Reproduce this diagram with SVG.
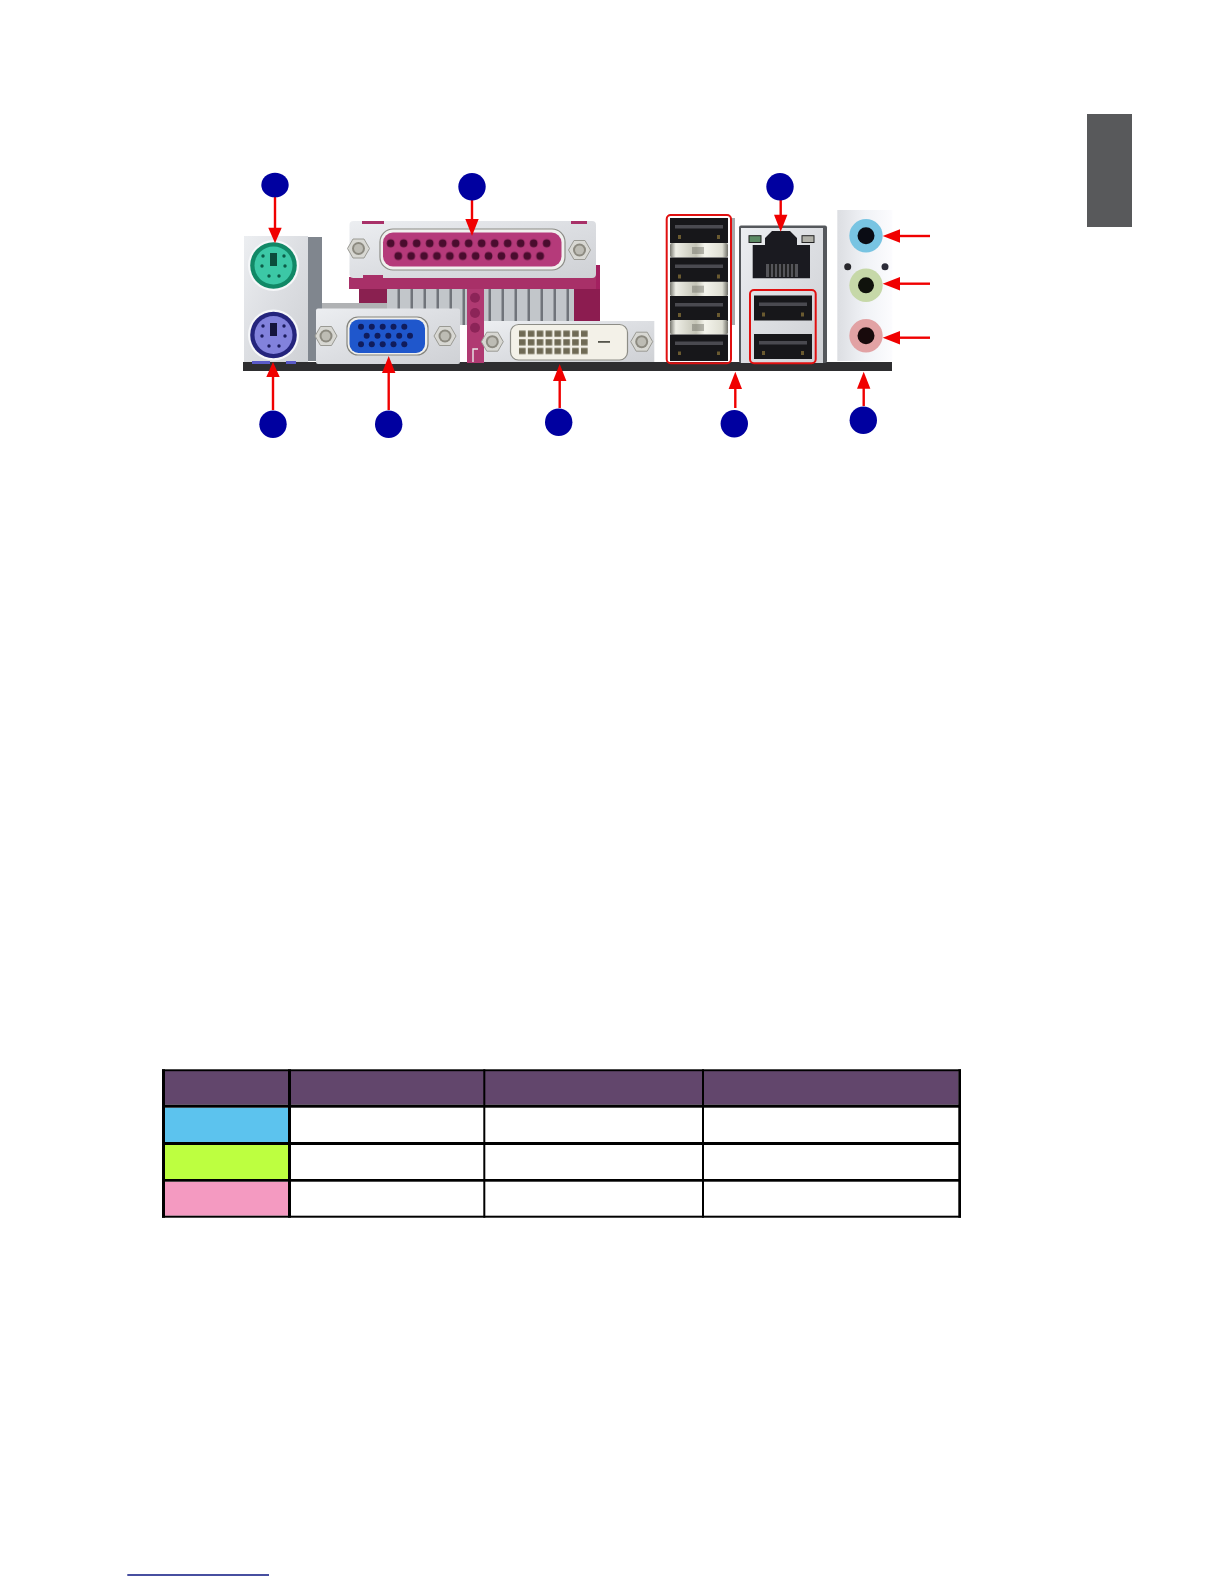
<svg xmlns="http://www.w3.org/2000/svg" width="1224" height="1584" viewBox="0 0 1224 1584">
<style>
.badge{fill:#0000a0}
.conn line{stroke:#f00000;stroke-width:2.400;fill:none}
.conn polygon{fill:#f00000}
.rbox{fill:none;stroke:#e01010;stroke-width:2}
.grid{fill:#000}
.slot{fill:#17171a}
.tongue{fill:#4a4a50}
.silver{fill:url(#silver)}
.plate{fill:url(#plate)}
</style>
<defs>
<linearGradient id="plate" x1="0" y1="0" x2="1" y2="1"><stop offset="0" stop-color="#eceef1"/><stop offset=".5" stop-color="#dcdee2"/><stop offset="1" stop-color="#cfd1d5"/></linearGradient>
<linearGradient id="silver" x1="0" y1="0" x2="1" y2="0"><stop offset="0" stop-color="#77776f"/><stop offset=".1" stop-color="#eeeee6"/><stop offset=".45" stop-color="#c4c4b6"/><stop offset=".6" stop-color="#f4f4ec"/><stop offset=".9" stop-color="#deded2"/><stop offset="1" stop-color="#707068"/></linearGradient>
<linearGradient id="audio" x1="0" y1="0" x2="1" y2="0"><stop offset="0" stop-color="#dcdee2"/><stop offset=".5" stop-color="#f0f2f6"/><stop offset="1" stop-color="#fcfcfe"/></linearGradient>
<g id="screw"><polygon points="-11,0 -5.500,-9.500 5.500,-9.500 11,0 5.500,9.500 -5.500,9.500" fill="#d8d8d3" stroke="#9a9a94"/><circle r="6.500" fill="#8c8a80"/><circle r="4.500" fill="#bdbcb4"/></g>
<g id="usbport"><rect class="slot" x="0" y="0" width="58" height="25"/><rect class="tongue" x="5" y="7" width="48" height="3.500"/><rect x="8" y="17" width="3" height="4" fill="#6a5a30"/><rect x="47" y="17" width="3" height="4" fill="#6a5a30"/></g>
<g id="silverband"><rect class="silver" x="0" y="0" width="58" height="14.500" rx="2"/><rect x="22" y="4" width="12" height="7" fill="#6c6c64" opacity=".45"/></g>
<pattern id="finp" x="387" y="289" width="13" height="40" patternUnits="userSpaceOnUse"><rect width="13" height="40" fill="#c2c6ca"/><rect x="10.500" width="2.500" height="40" fill="#70747a"/></pattern>
<pattern id="parTop" x="384.200" y="236.800" width="13" height="13" patternUnits="userSpaceOnUse"><circle cx="6.500" cy="6.500" r="3.900" fill="#4a0c2e"/></pattern>
<pattern id="parBot" x="391.800" y="249.500" width="12.900" height="13" patternUnits="userSpaceOnUse"><circle cx="6.450" cy="6.500" r="3.900" fill="#4a0c2e"/></pattern>
<pattern id="dviP" x="518" y="329.400" width="8.860" height="8.650" patternUnits="userSpaceOnUse"><rect x="1" y="1.200" width="6.600" height="6.200" fill="#6f6a55"/></pattern>
<circle id="vp" r="3" fill="#101c5c"/>
</defs>

<rect width="1224" height="1584" fill="#fff"/>

<rect id="side-tab" x="1087" y="114" width="45" height="113" fill="#58595b"/>

<g id="io-panel">
<rect id="board-strip" x="243" y="362" width="649" height="9" fill="#2e2e30"/>

<g id="heatsink">
<rect x="359" y="285" width="215" height="40" fill="url(#finp)"/>
<rect x="359" y="289" width="28" height="19" fill="#8a2050"/>
<rect x="594" y="265" width="6" height="57" fill="#a32060"/>
<rect x="574" y="289" width="26" height="33" fill="#8c1c50"/>
<rect x="349" y="277" width="247" height="12" fill="#a83068"/>
</g>

<g id="pink-post">
<rect x="467" y="289" width="17" height="74" fill="#b03a72"/>
<circle cx="475" cy="297.700" r="5" fill="#8c2458"/>
<circle cx="475" cy="313" r="5" fill="#8c2458"/>
<circle cx="475" cy="327.700" r="5" fill="#8c2458"/>
<path d="M473 362V349H478" fill="none" stroke="#e8e8e8" stroke-width="1.400"/>
</g>

<g id="ps2">
<rect x="305" y="237" width="17" height="124" fill="#80868e"/>
<rect x="244" y="236" width="64" height="126" class="plate"/>
<circle cx="273.500" cy="265.500" r="25.500" fill="#f6f7f9"/>
<circle cx="273.500" cy="265.500" r="23.300" fill="#118866"/>
<circle cx="273.500" cy="265.500" r="19" fill="#3cc8a6"/>
<rect x="270" y="253" width="7" height="13" fill="#0c4c3c"/>
<circle cx="262" cy="266" r="1.700" fill="#0c5c48"/><circle cx="285" cy="266" r="1.700" fill="#0c5c48"/>
<circle cx="269" cy="276" r="1.700" fill="#0c5c48"/><circle cx="279" cy="276" r="1.700" fill="#0c5c48"/>
<circle cx="263" cy="256" r="1.700" fill="#0c5c48"/><circle cx="284" cy="256" r="1.700" fill="#0c5c48"/>
<circle cx="273.500" cy="335" r="25.500" fill="#f6f7f9"/>
<circle cx="273.500" cy="335" r="23.300" fill="#24247c"/>
<circle cx="273.500" cy="335" r="19" fill="#8282dc"/>
<rect x="270" y="323" width="7" height="13" fill="#14143c"/>
<circle cx="262" cy="336" r="1.700" fill="#1c1c5c"/><circle cx="285" cy="336" r="1.700" fill="#1c1c5c"/>
<circle cx="269" cy="346" r="1.700" fill="#1c1c5c"/><circle cx="279" cy="346" r="1.700" fill="#1c1c5c"/>
<circle cx="263" cy="326" r="1.700" fill="#1c1c5c"/><circle cx="284" cy="326" r="1.700" fill="#1c1c5c"/>
<rect x="252" y="361" width="18" height="3" fill="#5a5ac8"/><rect x="286" y="361" width="10" height="3" fill="#5a5ac8"/>
</g>

<g id="parallel-port">
<rect x="349.500" y="221" width="246.500" height="57" rx="4" class="plate"/>
<rect x="362" y="221" width="22" height="3" fill="#a83068"/>
<rect x="571" y="221" width="16" height="3" fill="#a83068"/>
<rect x="363" y="275" width="20" height="3" fill="#a83068"/>
<use href="#screw" x="358.500" y="248.500"/>
<use href="#screw" x="579.500" y="250"/>
<rect x="380" y="229" width="185" height="41" rx="13" fill="#f0f0ee" stroke="#8c8c86" stroke-width="1.200"/>
<rect x="383" y="232.500" width="178.500" height="34" rx="10" fill="#b53a7a"/>
<rect x="384.200" y="236.800" width="169" height="13" fill="url(#parTop)"/>
<rect x="391.800" y="249.500" width="154.800" height="13" fill="url(#parBot)"/>
</g>

<g id="vga-port">
<rect x="322" y="303" width="65" height="6" fill="#b0b2b4"/>
<rect x="316" y="308.500" width="144" height="55.500" rx="2" class="plate"/>
<use href="#screw" x="326" y="336"/>
<use href="#screw" x="445" y="336"/>
<rect x="347" y="317" width="81" height="38" rx="11" fill="#efefec" stroke="#85857f" stroke-width="1.200"/>
<rect x="349.500" y="319.500" width="75.500" height="33.500" rx="9" fill="#1f57cc"/>
<use href="#vp" x="361" y="326.700"/><use href="#vp" x="371.800" y="326.700"/><use href="#vp" x="382.700" y="326.700"/><use href="#vp" x="393.500" y="326.700"/><use href="#vp" x="404.300" y="326.700"/>
<use href="#vp" x="366.700" y="335.700"/><use href="#vp" x="377.500" y="335.700"/><use href="#vp" x="388.300" y="335.700"/><use href="#vp" x="399.200" y="335.700"/><use href="#vp" x="410" y="335.700"/>
<use href="#vp" x="361" y="344.300"/><use href="#vp" x="371.800" y="344.300"/><use href="#vp" x="382.700" y="344.300"/><use href="#vp" x="393.500" y="344.300"/><use href="#vp" x="404.300" y="344.300"/>
</g>

<g id="dvi-port">
<rect x="484" y="321" width="170.300" height="41" class="plate"/>
<use href="#screw" x="492.300" y="341.700"/>
<use href="#screw" x="641.700" y="341.700"/>
<rect x="510.500" y="324.500" width="117" height="35.500" rx="8" fill="#f3f1e8" stroke="#8d8d86" stroke-width="1.200"/>
<rect x="518" y="329.400" width="70.900" height="26" fill="url(#dviP)"/>
<rect x="598" y="341" width="12" height="1.800" fill="#55554c"/>
</g>

<g id="usb-stack">
<rect x="730" y="218" width="5" height="107" fill="#a8aaac"/>
<use href="#usbport" x="670" y="218"/>
<use href="#silverband" x="670" y="243"/>
<use href="#usbport" x="670" y="257.500"/>
<use href="#silverband" x="670" y="281.700"/>
<use href="#usbport" x="670" y="296"/>
<use href="#silverband" x="670" y="320"/>
<use href="#usbport" x="670" y="334.500"/>
<rect class="slot" x="670" y="355" width="58" height="6"/>
<rect class="rbox" x="666.700" y="215" width="64.300" height="148.300" rx="4"/>
</g>

<g id="lan-usb">
<rect x="739" y="225.500" width="88" height="137.500" rx="2" fill="#55585c"/>
<rect x="741" y="228" width="82" height="135" class="plate"/>
<rect x="749" y="235.700" width="12" height="6.800" fill="#5c8a64" stroke="#222"/>
<rect x="802" y="235.700" width="12" height="6.800" fill="#b0b0a8" stroke="#222"/>
<path d="M765 245V238L772 231H790L797 238V245H810V278.300H752.700V245Z" fill="#1a1a20"/>
<rect x="766" y="264" width="32" height="13" fill="#55555a"/>
<path d="M770 264v13M774 264v13M778 264v13M782 264v13M786 264v13M790 264v13M794 264v13" stroke="#111" stroke-width="1.500"/>
<use href="#usbport" x="754" y="295.500"/>
<use href="#usbport" x="754" y="334"/>
<rect class="rbox" x="750" y="290" width="65.700" height="73.300" rx="4"/>
</g>

<g id="audio-jacks">
<rect x="837.300" y="210" width="55" height="151" fill="url(#audio)"/>
<circle cx="847.700" cy="266.700" r="3.500" fill="#28282c"/>
<circle cx="885" cy="266.700" r="3.500" fill="#2c2c38"/>
<circle cx="866" cy="235.700" r="16.700" fill="#78c4e2"/><circle cx="866" cy="235.700" r="8.500" fill="#0a0c14"/>
<circle cx="866" cy="285.300" r="16.700" fill="#c6d8a8"/><circle cx="866" cy="285.300" r="8" fill="#10120c"/>
<circle cx="866" cy="335.700" r="16.700" fill="#e2a2a4"/><circle cx="866" cy="335.700" r="8.500" fill="#180a0c"/>
</g>
</g>

<g id="connectors" class="conn">
<line x1="275" y1="197" x2="275" y2="229"/><polygon points="275,243.300 268.300,227.800 281.700,227.800"/>
<line x1="472" y1="200" x2="472" y2="220"/><polygon points="472,236 465.300,219 478.700,219"/>
<line x1="780.700" y1="200" x2="780.700" y2="216"/><polygon points="780.700,231.700 774,214.700 787.400,214.700"/>
<line x1="273" y1="410" x2="273" y2="376"/><polygon points="273,362 266.300,377 279.700,377"/>
<line x1="388.700" y1="410" x2="388.700" y2="372"/><polygon points="388.700,356 382,373 395.400,373"/>
<line x1="559.700" y1="408" x2="559.700" y2="380"/><polygon points="559.700,364 553,381 566.400,381"/>
<line x1="735.300" y1="408" x2="735.300" y2="388"/><polygon points="735.300,371.700 728.600,389 742,389"/>
<line x1="863.700" y1="406" x2="863.700" y2="388"/><polygon points="863.700,371.700 857,388.700 870.400,388.700"/>
<line x1="930" y1="236" x2="899" y2="236"/><polygon points="882.700,236 900,229.300 900,242.700"/>
<line x1="930" y1="283.700" x2="899" y2="283.700"/><polygon points="882.700,283.700 900,277 900,290.400"/>
<line x1="930" y1="337.700" x2="899" y2="337.700"/><polygon points="882.700,337.700 900,331 900,344.400"/>
</g>

<g id="badge-1"><ellipse class="badge" cx="275" cy="185" rx="13.700" ry="12.300"/></g>
<g id="badge-2"><circle class="badge" cx="472" cy="186.700" r="13.700"/></g>
<g id="badge-3"><circle class="badge" cx="780" cy="186.700" r="13.700"/></g>
<g id="badge-4"><circle class="badge" cx="273" cy="424.300" r="13.700"/></g>
<g id="badge-5"><circle class="badge" cx="388.700" cy="424.300" r="13.700"/></g>
<g id="badge-6"><circle class="badge" cx="558.700" cy="422.300" r="13.700"/></g>
<g id="badge-7"><circle class="badge" cx="734.300" cy="423.700" r="13.700"/></g>
<g id="badge-8"><circle class="badge" cx="863.300" cy="420.300" r="13.700"/></g>

<g id="jack-table">
<rect x="165" y="1071" width="793.500" height="33.700" fill="#62466c"/>
<rect x="165" y="1107.700" width="123" height="34.300" fill="#5cc3ee"/>
<rect x="165" y="1145" width="123" height="34" fill="#bdff40"/>
<rect x="165" y="1181.700" width="123" height="34" fill="#f49ac1"/>
<rect class="grid" x="162" y="1069.300" width="799" height="1.900"/>
<rect class="grid" x="162" y="1104.700" width="799" height="3"/>
<rect class="grid" x="162" y="1142" width="799" height="3"/>
<rect class="grid" x="162" y="1179" width="799" height="2.700"/>
<rect class="grid" x="162" y="1215.700" width="799" height="2"/>
<rect class="grid" x="162" y="1069.300" width="3" height="148.400"/>
<rect class="grid" x="288" y="1069.300" width="3" height="148.400"/>
<rect class="grid" x="483.300" y="1069.300" width="2" height="148.400"/>
<rect class="grid" x="702" y="1069.300" width="2" height="148.400"/>
<rect class="grid" x="958.300" y="1069.300" width="2.700" height="148.400"/>
</g>

<line id="footer-rule" x1="127.300" y1="1575" x2="269" y2="1575" stroke="#0a1480" stroke-width="1.600"/>
</svg>
